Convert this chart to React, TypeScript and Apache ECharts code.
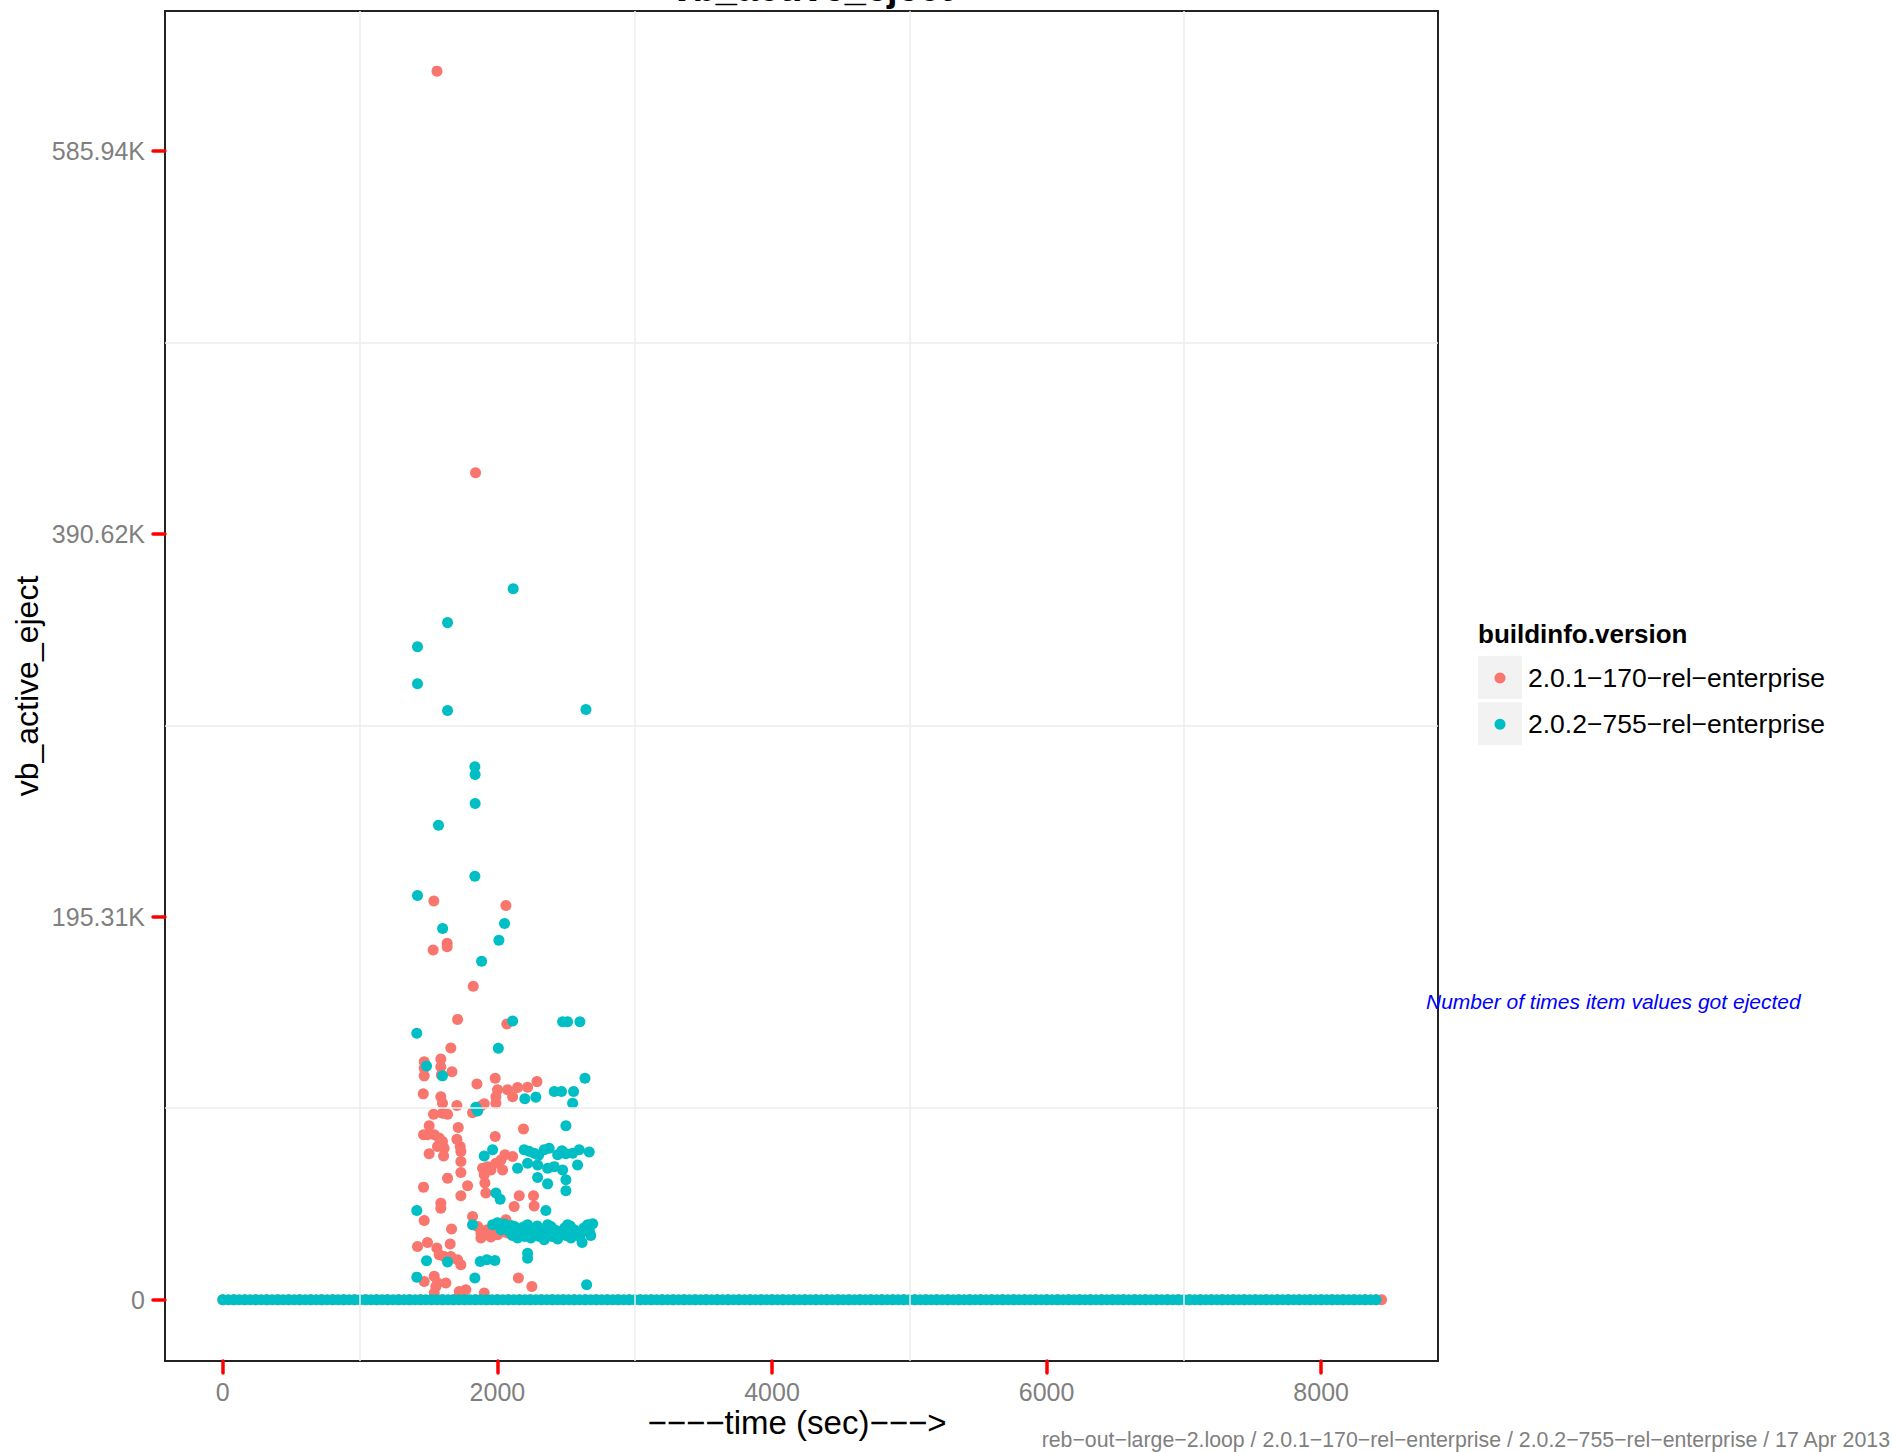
import React, { useEffect, useRef } from 'react';
import * as echarts from 'echarts';

// ---------- data ----------
const versions = ['2.0.1−170−rel−enterprise', '2.0.2−755−rel−enterprise'];
const versionColors = ['#F8766D', '#00BFC4'];

const xTicks = [0, 2000, 4000, 6000, 8000];
const xTickLabels = ['0', '2000', '4000', '6000', '8000'];
const xMinorGrid = [1000, 3000, 5000, 7000];
const yTicks = [0, 200000, 400000, 600000];
const yTickLabels = ['0', '195.31K', '390.62K', '585.94K'];
const yMinorGrid = [100000, 300000, 500000];

const xRange = [-421, 8851];
const yRange = [-32000, 673000];

// samples (sec) where vb_active_eject was 0
const redZeroTimes = [
  0, 80, 160, 240, 320, 400, 480, 560, 640, 720, 800, 880, 960, 1040, 1120, 1200, 1280, 1360, 1440, 1520,
  1600, 1680, 1760, 1840, 1920, 2000, 2080, 2160, 2240, 2320, 2400, 2480, 2560, 2640, 2720, 2800, 2880, 2960, 3040, 3120,
  3200, 3280, 3360, 3440, 3520, 3600, 3680, 3760, 3840, 3920, 4000, 4080, 4160, 4240, 4320, 4400, 4480, 4560, 4640, 4720,
  4800, 4880, 4960, 5040, 5120, 5200, 5280, 5360, 5440, 5520, 5600, 5680, 5760, 5840, 5920, 6000, 6080, 6160, 6240, 6320,
  6400, 6480, 6560, 6640, 6720, 6800, 6880, 6960, 7040, 7120, 7200, 7280, 7360, 7440, 7520, 7600, 7680, 7760, 7840, 7920,
  8000, 8080, 8160, 8240, 8320, 8400, 8440,
];
const cyanZeroTimes = [
  0, 40, 80, 120, 160, 200, 240, 280, 320, 360, 400, 440, 480, 520, 560, 600, 640, 680, 720, 760,
  800, 840, 880, 920, 960, 1000, 1040, 1080, 1120, 1160, 1200, 1240, 1280, 1320, 1360, 1400, 1440, 1480, 1520, 1560,
  1600, 1640, 1680, 1720, 1760, 1800, 1840, 1880, 1920, 1960, 2000, 2040, 2080, 2120, 2160, 2200, 2240, 2280, 2320, 2360,
  2400, 2440, 2480, 2520, 2560, 2600, 2640, 2680, 2720, 2760, 2800, 2840, 2880, 2920, 2960, 3000, 3040, 3080, 3120, 3160,
  3200, 3240, 3280, 3320, 3360, 3400, 3440, 3480, 3520, 3560, 3600, 3640, 3680, 3720, 3760, 3800, 3840, 3880, 3920, 3960,
  4000, 4040, 4080, 4120, 4160, 4200, 4240, 4280, 4320, 4360, 4400, 4440, 4480, 4520, 4560, 4600, 4640, 4680, 4720, 4760,
  4800, 4840, 4880, 4920, 4960, 5000, 5040, 5080, 5120, 5160, 5200, 5240, 5280, 5320, 5360, 5400, 5440, 5480, 5520, 5560,
  5600, 5640, 5680, 5720, 5760, 5800, 5840, 5880, 5920, 5960, 6000, 6040, 6080, 6120, 6160, 6200, 6240, 6280, 6320, 6360,
  6400, 6440, 6480, 6520, 6560, 6600, 6640, 6680, 6720, 6760, 6800, 6840, 6880, 6920, 6960, 7000, 7040, 7080, 7120, 7160,
  7200, 7240, 7280, 7320, 7360, 7400, 7440, 7480, 7520, 7560, 7600, 7640, 7680, 7720, 7760, 7800, 7840, 7880, 7920, 7960,
  8000, 8040, 8080, 8120, 8160, 8200, 8240, 8280, 8320, 8360, 8400,
];

// non-zero samples: [time sec, value in thousands]
const redSpikes: [number, number][] = [
  [1560, 641.6], [1841, 431.9], [1537, 208.2], [2062, 205.9], [1532, 182.6], [1634, 186.1], [1634, 184.3],
  [1824, 163.7], [1710, 146.4], [2069, 144.0], [1661, 131.5],
  [1467, 124.3], [1467, 120.9], [1467, 116.9], [1588, 125.7], [1588, 121.6], [1592, 117.4], [1669, 119.1],
  [1851, 112.7], [1984, 115.7], [1460, 107.5], [1588, 106.0], [1600, 102.6], [1705, 101.4],
  [2001, 109.6], [1989, 106.0], [1989, 102.6], [2074, 109.6], [2147, 110.8], [2220, 111.0], [2288, 113.9],
  [2111, 106.0], [1904, 102.3], [1880, 101.2], [1819, 97.7], [1535, 96.9], [1600, 97.4], [1637, 96.9],
  [1503, 90.8], [1491, 86.1], [1462, 86.1], [1715, 89.9], [1540, 86.1], [1576, 84.4], [1600, 82.6],
  [1564, 80.0], [1612, 79.1], [1705, 83.8], [1729, 80.0], [1734, 77.4], [1503, 76.2], [1608, 75.1],
  [1734, 72.2], [1734, 66.4], [1984, 85.2], [2190, 89.1],
  [2055, 75.7], [2026, 73.0], [1989, 71.3], [1929, 69.5], [1892, 68.7], [1953, 67.8], [2038, 67.8], [2111, 74.8],
  [1637, 63.5], [1783, 59.5], [1904, 65.2], [1909, 60.9], [1916, 55.7], [1462, 58.8], [1734, 54.3],
  [2159, 54.3], [2263, 54.3], [2268, 49.0], [2122, 48.7], [1588, 50.4], [1588, 47.8], [1467, 41.4],
  [1666, 36.9], [1819, 43.5],
  [1856, 38.2], [1880, 34.8], [1929, 36.5], [1977, 38.2], [2026, 40.0], [2062, 41.7], [1880, 32.2],
  [1953, 32.7], [2001, 33.9], [2074, 34.8], [1905, 36.0], [2040, 35.5], [1960, 35.0],
  [1418, 27.8], [1491, 29.9], [1559, 27.0], [1576, 23.5], [1612, 22.6], [1656, 29.1],
  [1661, 22.6], [1710, 20.9], [1734, 18.3],
  [1467, 9.5], [1540, 12.2], [1564, 8.7], [1625, 8.7], [1552, 6.9], [2153, 11.3], [2251, 6.9],
  [1770, 5.2], [1722, 4.3], [1904, 3.5], [1540, 3.5],
];

const cyanSpikes: [number, number][] = [
  [2115, 371.3], [1637, 353.6], [1418, 341.0], [1418, 321.7], [1637, 307.7], [2645, 308.2],
  [1836, 278.3], [1838, 274.3], [1838, 259.1], [1571, 247.8], [1836, 221.1], [1418, 211.1],
  [1601, 193.9], [2052, 196.5], [2011, 187.7], [1885, 176.7],
  [1413, 139.1], [2111, 145.6], [2475, 145.2], [2511, 145.2], [2601, 145.2], [2007, 131.3],
  [1484, 122.1], [1600, 116.9], [2638, 115.7], [2414, 108.7], [2467, 108.7], [2555, 108.7],
  [2200, 104.9], [2280, 105.8], [2548, 102.6], [1843, 100.5], [1856, 98.6], [2499, 90.9],
  [1904, 75.1], [1965, 78.3], [2195, 78.3], [2268, 76.5], [2341, 78.3], [2377, 79.1], [2439, 75.7],
  [2499, 76.2], [2548, 76.5], [2596, 78.3], [2669, 77.1], [2230, 77.5], [2300, 75.5], [2470, 77.8],
  [2147, 68.7], [2220, 71.3], [2293, 70.4], [2366, 68.7], [2414, 69.5], [2475, 67.8], [2584, 70.4],
  [2293, 63.8], [2366, 60.5], [2499, 62.6], [2499, 56.9], [1989, 55.7], [2020, 52.5],
  [1413, 46.6], [2353, 46.6],
  [1819, 39.1], [1965, 39.1], [2026, 36.5], [2087, 35.6], [2123, 38.3], [2171, 34.8], [2220, 39.1],
  [2268, 36.5], [2317, 33.9], [2366, 39.1], [2414, 36.5], [2463, 34.8], [2511, 39.1], [2560, 36.5],
  [2608, 34.8], [2657, 39.1], [2694, 39.7], [2147, 32.2], [2244, 32.2], [2341, 31.3], [2439, 31.7],
  [2536, 32.2], [2617, 29.9], [2220, 24.3], [2220, 21.7],
  [2100, 38.8], [2140, 37.2], [2190, 38.0], [2240, 35.5], [2290, 38.5], [2340, 36.0], [2390, 38.2],
  [2440, 35.8], [2490, 37.5], [2530, 38.5], [2580, 35.5], [2630, 37.5], [2670, 36.0], [2060, 37.8],
  [2110, 33.5], [2200, 33.0], [2300, 33.2], [2400, 33.0], [2500, 33.5], [2600, 33.0], [2680, 33.5],
  [2050, 39.5], [2000, 40.2],
  [1484, 20.3], [1637, 19.7], [1875, 20.0], [1924, 20.9], [1982, 20.5],
  [1413, 11.8], [1836, 11.3], [2650, 7.8],
];

// ---------- chart ----------
const FONT = '"Liberation Sans", Arial, Helvetica, sans-serif';

function buildSeriesData(zeroTimes: number[], spikes: [number, number][]) {
  return zeroTimes.map((t) => [t, 0]).concat(spikes.map(([t, k]) => [t, k * 1000]));
}

export default function App() {
  const ref = useRef<HTMLDivElement>(null);

  useEffect(() => {
    if (!ref.current) return;
    const chart = echarts.init(ref.current, undefined, { renderer: 'svg' });

    const gridLeft = 165;
    const gridTop = 11;
    const gridWidth = 1273;
    const gridHeight = 1350;

    const legendGraphics: any[] = [
      {
        type: 'text',
        x: 1478,
        y: 634,
        style: {
          text: 'buildinfo.version',
          font: `bold 26px ${FONT}`,
          fill: '#000',
          align: 'left',
          verticalAlign: 'middle',
        },
      },
    ];
    versions.forEach((name, i) => {
      const cy = 678 + i * 46.3;
      legendGraphics.push({
        type: 'rect',
        shape: { x: 1478, y: cy - 22, width: 44, height: 43 },
        style: { fill: '#f2f2f2' },
      });
      legendGraphics.push({
        type: 'circle',
        shape: { cx: 1500, cy, r: 5.5 },
        style: { fill: versionColors[i] },
      });
      legendGraphics.push({
        type: 'text',
        x: 1528,
        y: cy,
        style: {
          text: name,
          font: `26.5px ${FONT}`,
          fill: '#000',
          align: 'left',
          verticalAlign: 'middle',
        },
      });
    });

    const tickStyle = { color: '#ff0000', width: 3.5, cap: 'round' };

    const option: any = {
      animation: false,
      backgroundColor: '#ffffff',
      grid: {
        left: gridLeft,
        top: gridTop,
        width: gridWidth,
        height: gridHeight,
        show: true,
        borderColor: '#222222',
        borderWidth: 2,
        backgroundColor: 'transparent',
        containLabel: false,
      },
      xAxis: {
        type: 'value',
        min: xRange[0],
        max: xRange[1],
        position: 'bottom',
        axisLine: { show: false, onZero: false },
        splitLine: { show: false },
        axisTick: {
          show: true,
          inside: false,
          customValues: xTicks,
          length: 12,
          lineStyle: tickStyle,
        },
        axisLabel: {
          customValues: xTicks,
          margin: 18,
          color: '#7f7f7f',
          fontSize: 25,
          fontFamily: FONT,
          formatter: (v: number) => {
            const idx = xTicks.indexOf(v);
            return idx >= 0 ? xTickLabels[idx] : '';
          },
        },
      },
      yAxis: {
        type: 'value',
        min: yRange[0],
        max: yRange[1],
        position: 'left',
        axisLine: { show: false, onZero: false },
        splitLine: { show: false },
        axisTick: {
          show: true,
          inside: false,
          customValues: yTicks,
          length: 12,
          lineStyle: tickStyle,
        },
        axisLabel: {
          customValues: yTicks,
          margin: 20,
          color: '#7f7f7f',
          fontSize: 25,
          fontFamily: FONT,
          formatter: (v: number) => {
            const idx = yTicks.indexOf(v);
            return idx >= 0 ? yTickLabels[idx] : '';
          },
        },
      },
      series: [
        {
          type: 'scatter',
          name: 'grid',
          data: [],
          z: 1,
          silent: true,
          markLine: {
            silent: true,
            symbol: ['none', 'none'],
            label: { show: false },
            emphasis: { disabled: true },
            lineStyle: { color: '#ededed', width: 1.5, type: 'solid' },
            data: [
              ...xMinorGrid.map((x) => ({ xAxis: x })),
              ...yMinorGrid.map((y) => ({ yAxis: y })),
            ],
          },
        },
        {
          type: 'scatter',
          name: versions[0],
          symbol: 'circle',
          symbolSize: 11,
          z: 3,
          itemStyle: { color: versionColors[0], opacity: 1 },
          data: buildSeriesData(redZeroTimes, redSpikes),
        },
        {
          type: 'scatter',
          name: versions[1],
          symbol: 'circle',
          symbolSize: 11,
          z: 4,
          itemStyle: { color: versionColors[1], opacity: 1 },
          data: buildSeriesData(cyanZeroTimes, cyanSpikes),
        },
      ],
      graphic: [
        {
          type: 'text',
          x: 812,
          y: 7,
          style: {
            text: 'vb_active_eject',
            font: `bold 38px ${FONT}`,
            fill: '#000',
            align: 'center',
            verticalAlign: 'bottom',
          },
        },
        {
          type: 'text',
          x: 27,
          y: 686,
          rotation: Math.PI / 2,
          style: {
            text: 'vb_active_eject',
            font: `32px ${FONT}`,
            fill: '#000',
            align: 'center',
            verticalAlign: 'middle',
          },
        },
        {
          type: 'text',
          x: 797,
          y: 1422,
          style: {
            text: '−−−−time (sec)−−−>',
            font: `33px ${FONT}`,
            fill: '#000',
            align: 'center',
            verticalAlign: 'middle',
          },
        },
        ...legendGraphics,
        {
          type: 'text',
          x: 1426,
          y: 1001,
          style: {
            text: 'Number of times item values got ejected',
            font: `italic 21px ${FONT}`,
            fill: '#0000ff',
            align: 'left',
            verticalAlign: 'middle',
          },
        },
        {
          type: 'text',
          x: 1890,
          y: 1440,
          style: {
            text: 'reb−out−large−2.loop / 2.0.1−170−rel−enterprise / 2.0.2−755−rel−enterprise / 17 Apr 2013',
            font: `21.3px ${FONT}`,
            fill: '#7f7f7f',
            align: 'right',
            verticalAlign: 'middle',
          },
        },
      ],
    };

    chart.setOption(option);
    return () => {
      chart.dispose();
    };
  }, []);

  return (
    <div
      ref={ref}
      style={{ position: 'absolute', left: 0, top: 0, width: 1893, height: 1452, background: '#fff' }}
    />
  );
}
